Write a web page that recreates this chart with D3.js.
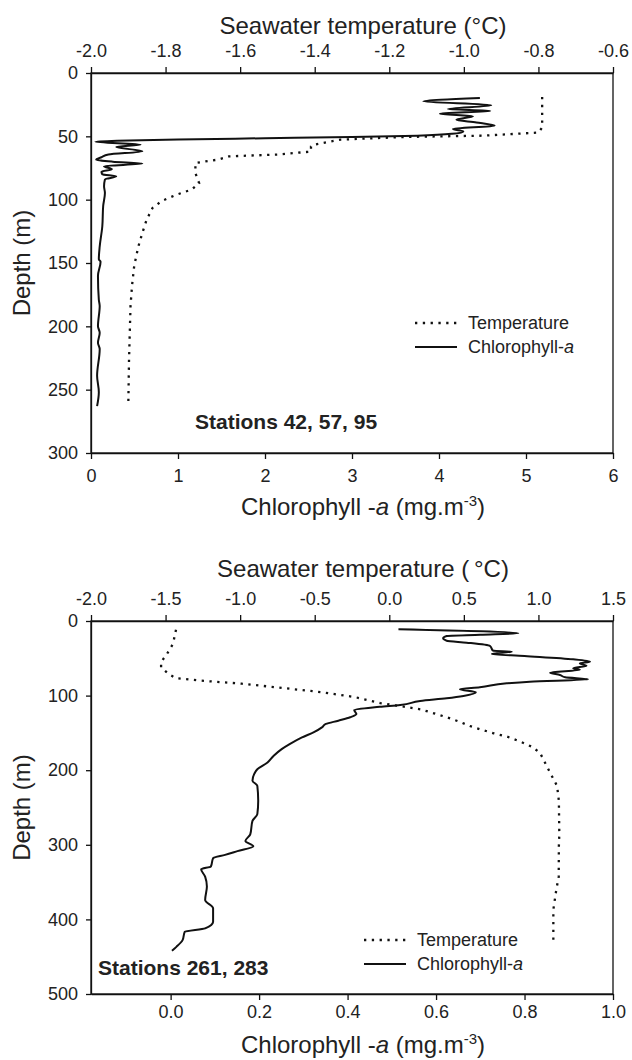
<!DOCTYPE html>
<html>
<head>
<meta charset="utf-8">
<script src="https://cdn.jsdelivr.net/npm/d3@7"></script>
<style>
  body { margin: 0; background: #fff; }
  text { font-family: "Liberation Sans", Arial, sans-serif; fill: #222; }
</style>
</head>
<body>
<svg id="chart" width="632" height="1060"></svg>
<script>
// ---- data (depth in m, temperature in degC, chlorophyll in mg.m-3) ----
// upper panel: stations 42, 57, 95
var topTemp = [[19,-0.79],[43,-0.79],[47,-0.80],[49.5,-0.95],[50.5,-1.16],[52.6,-1.33],[56.5,-1.40],[58,-1.41],
  [62,-1.41],[64.4,-1.50],[65.8,-1.63],[68.4,-1.66],[71,-1.72],[79,-1.72],[87,-1.71],[92,-1.73],[96,-1.77],
  [101,-1.81],[106.5,-1.835],[116,-1.851],[126,-1.862],[137,-1.873],[152,-1.884],[168,-1.89],[184,-1.894],
  [226,-1.898],[263,-1.90]];
var topChl = [[19.7,4.47],[22.4,3.82],[25.5,4.60],[28.5,4.10],[30,4.59],[32.1,4.01],[34.2,4.39],[36.9,4.20],
  [39,4.43],[41.6,4.64],[44.2,4.16],[46.1,4.28],[48,4.15],[49.5,3.75],[50.5,3.0],[51.5,2.0],[52.5,1.0],
  [53.5,0.3],[54.3,0.05],[56.5,0.57],[58.4,0.29],[61.8,0.59],[64.4,0.20],[66.5,0.12],[68.4,0.06],[70,0.25],
  [71.5,0.59],[73.6,0.15],[76,0.24],[78,0.12],[80,0.13],[81.6,0.29],[84,0.16],[89.5,0.15],[94.7,0.16],
  [105,0.14],[121,0.13],[137,0.10],[147,0.09],[149,0.11],[160,0.08],[179,0.09],[184,0.10],[200,0.08],
  [205,0.10],[213,0.08],[218,0.10],[239,0.07],[252,0.09],[263,0.07]];

// lower panel: stations 261, 283
var botTemp = [[11.7,-1.43],[30.5,-1.45],[44,-1.49],[55,-1.53],[62,-1.53],[71,-1.48],[76.7,-1.43],[80,-1.26],
  [84,-0.99],[89.7,-0.72],[95.5,-0.45],[102,-0.23],[110,-0.06],[115,0.105],[118.4,0.21],[123.8,0.30],
  [129,0.385],[135,0.47],[140.8,0.54],[145.2,0.61],[150.5,0.70],[155,0.79],[161.8,0.88],[168.5,0.955],
  [176.5,1.01],[186.3,1.035],[194.3,1.055],[207.8,1.09],[221,1.125],[241,1.137],[286,1.14],[302,1.137],
  [343,1.136],[360,1.12],[387,1.10],[434.5,1.10]];
var botChl = [[11.1,0.515],[16.5,0.786],[18.5,0.70],[20.1,0.624],[23.2,0.616],[26.4,0.624],[29,0.669],
  [33.5,0.722],[39.8,0.729],[41.1,0.771],[44.2,0.726],[47,0.80],[51.4,0.910],[54.5,0.948],[57,0.925],[60,0.94],
  [63.4,0.91],[65.5,0.925],[69.3,0.858],[72.4,0.88],[75.5,0.892],[78.2,0.944],[81.3,0.812],[83.5,0.76],
  [88.9,0.699],[91.6,0.654],[95.6,0.69],[100.5,0.662],[103.6,0.624],[107.2,0.564],[112.6,0.519],[115,0.473],
  [119.3,0.415],[124.7,0.42],[129,0.406],[133.6,0.379],[138,0.351],[142.6,0.342],[149,0.324],[156,0.297],
  [165,0.269],[171.7,0.251],[180.7,0.233],[189.7,0.219],[198.7,0.196],[205,0.189],[214,0.185],[221,0.196],
  [241,0.198],[259,0.196],[268,0.185],[286,0.18],[295,0.169],[302,0.187],[308.5,0.151],[313.5,0.123],
  [318,0.096],[329,0.091],[332.7,0.069],[342.6,0.078],[356,0.082],[374,0.078],[385,0.096],[403,0.096],
  [412,0.078],[416.6,0.032],[427.8,0.027],[436.8,0.013],[442,0.003]];

// ticks
var topTempTicks = [-2.0,-1.8,-1.6,-1.4,-1.2,-1.0,-0.8,-0.6];
var topChlTicks = [0,1,2,3,4,5,6];
var topDepthTicks = [0,50,100,150,200,250,300];
var botTempTicks = [-2.0,-1.5,-1.0,-0.5,0.0,0.5,1.0,1.5];
var botChlTicks = [0.0,0.2,0.4,0.6,0.8,1.0];
var botDepthTicks = [0,100,200,300,400,500];

var svg = d3.select("#chart");
var L = 91, R = 613;

function fix1(d) { return d.toFixed(1); }

function panel(cfg) {
  var g = svg.append("g");
  var t = d3.scaleLinear().domain(cfg.tempDomain).range([L, R]);
  var c = d3.scaleLinear().domain(cfg.chlDomain).range([L, R]);
  var y = d3.scaleLinear().domain([0, cfg.maxDepth]).range([cfg.top, cfg.bottom]);

  // frame
  g.append("rect")
    .attr("x", L).attr("y", cfg.top)
    .attr("width", R - L).attr("height", cfg.bottom - cfg.top)
    .attr("fill", "none").attr("stroke", "#111").attr("stroke-width", 1.3);

  var ax = [];
  ax.push(g.append("g").attr("transform", "translate(0," + cfg.top + ")")
    .call(d3.axisTop(t).tickValues(cfg.tempTicks).tickFormat(fix1).tickSize(6).tickSizeOuter(0).tickPadding(10)));
  ax.push(g.append("g").attr("transform", "translate(0," + cfg.bottom + ")")
    .call(d3.axisBottom(c).tickValues(cfg.chlTicks).tickFormat(cfg.chlFormat).tickSize(6).tickSizeOuter(0).tickPadding(cfg.botPad)));
  ax.push(g.append("g").attr("transform", "translate(" + L + ",0)")
    .call(d3.axisLeft(y).tickValues(cfg.depthTicks).tickFormat(d3.format("d")).tickSize(5).tickSizeOuter(0).tickPadding(8)));
  ax.forEach(function(a) {
    a.selectAll("path.domain").attr("stroke", "#111").attr("stroke-width", 1.3);
    a.selectAll(".tick line").attr("stroke", "#111").attr("stroke-width", 1.3);
    a.selectAll(".tick text").attr("font-size", 18).attr("fill", "#222")
      .attr("font-family", '"Liberation Sans", Arial, sans-serif');
  });

  // lines
  g.append("path").datum(cfg.temp)
    .attr("fill", "none").attr("stroke", "#111").attr("stroke-width", 2.3)
    .attr("stroke-dasharray", "2.3,5.5")
    .attr("d", d3.line().x(function(d) { return t(d[1]); }).y(function(d) { return y(d[0]); }));
  g.append("path").datum(cfg.chl)
    .attr("fill", "none").attr("stroke", "#111").attr("stroke-width", 2)
    .attr("stroke-linejoin", "round")
    .attr("d", d3.line().curve(d3.curveMonotoneY).x(function(d) { return c(d[1]); }).y(function(d) { return y(d[0]); }));

  // axis titles
  g.append("text").attr("x", 363).attr("y", cfg.top - cfg.tempTitleGap)
    .attr("text-anchor", "middle").attr("font-size", 24).text(cfg.tempTitle);

  var ct = g.append("text").attr("x", 363).attr("y", cfg.bottom + cfg.chlTitleGap)
    .attr("text-anchor", "middle").attr("font-size", 24);
  ct.append("tspan").text("Chlorophyll -");
  ct.append("tspan").attr("font-style", "italic").text("a");
  ct.append("tspan").text(" (mg.m");
  ct.append("tspan").attr("font-size", 15).attr("dy", -9).text("-3");
  ct.append("tspan").attr("dy", 9).text(")");

  g.append("text")
    .attr("transform", "translate(30," + ((cfg.top + cfg.bottom) / 2) + ") rotate(-90)")
    .attr("text-anchor", "middle").attr("font-size", 24).text("Depth (m)");

  // legend
  var lg = g.append("g");
  lg.append("line").attr("x1", cfg.legX).attr("x2", cfg.legX + 42)
    .attr("y1", cfg.legY).attr("y2", cfg.legY)
    .attr("stroke", "#111").attr("stroke-width", 2.3).attr("stroke-dasharray", "2.3,5.5");
  lg.append("line").attr("x1", cfg.legX).attr("x2", cfg.legX + 42)
    .attr("y1", cfg.legY + 24).attr("y2", cfg.legY + 24)
    .attr("stroke", "#111").attr("stroke-width", 2);
  lg.append("text").attr("x", cfg.legX + 53).attr("y", cfg.legY + 6)
    .attr("font-size", 18).text("Temperature");
  var l2 = lg.append("text").attr("x", cfg.legX + 53).attr("y", cfg.legY + 30).attr("font-size", 18);
  l2.append("tspan").text("Chlorophyll-");
  l2.append("tspan").attr("font-style", "italic").text("a");

  g.append("text").attr("x", cfg.stX).attr("y", cfg.stY)
    .attr("font-size", 21).attr("font-weight", "bold").attr("fill", "#1a1a1a").text(cfg.stations);
}

panel({
  top: 73, bottom: 453, maxDepth: 300,
  tempDomain: [-2.0, -0.6], chlDomain: [0, 6],
  tempTicks: topTempTicks, chlTicks: topChlTicks, depthTicks: topDepthTicks,
  chlFormat: d3.format("d"), botPad: 10, chlTitleGap: 62, tempTitleGap: 39,
  temp: topTemp, chl: topChl,
  tempTitle: "Seawater temperature (°C)",
  legX: 415, legY: 323, stX: 195, stY: 429, stations: "Stations 42, 57, 95"
});

panel({
  top: 621, bottom: 994, maxDepth: 500,
  tempDomain: [-2.0, 1.5], chlDomain: [-0.18, 1.0],
  tempTicks: botTempTicks, chlTicks: botChlTicks, depthTicks: botDepthTicks,
  chlFormat: fix1, botPad: 5, chlTitleGap: 59, tempTitleGap: 44,
  temp: botTemp, chl: botChl,
  tempTitle: "Seawater temperature (\u2009°C)",
  legX: 364, legY: 940, stX: 98, stY: 975, stations: "Stations 261, 283"
});
</script>
</body>
</html>
